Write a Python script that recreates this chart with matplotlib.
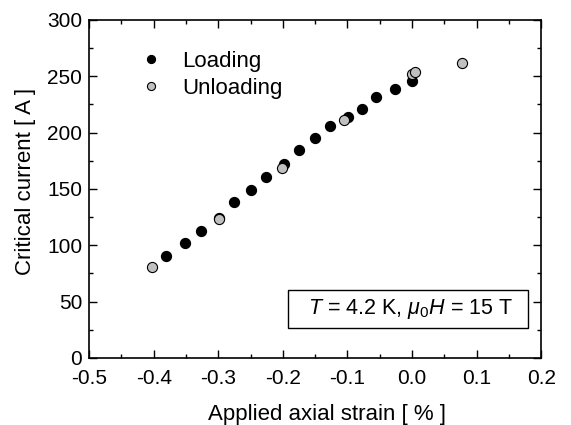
import numpy as np
import matplotlib
matplotlib.use("Agg")
import matplotlib.pyplot as plt
from matplotlib.ticker import MultipleLocator
from matplotlib.patches import Rectangle

plt.rcParams['font.family'] = ['Liberation Sans', 'DejaVu Sans']
plt.rcParams['mathtext.fontset'] = 'custom'
plt.rcParams['mathtext.rm'] = 'Liberation Sans'
plt.rcParams['mathtext.it'] = 'Liberation Sans:italic'

##### datos de carga / descarga #####
strain_load = [-0.381, -0.352, -0.327, -0.299, -0.276, -0.250, -0.226, -0.199,
               -0.175, -0.150, -0.127, -0.099, -0.078, -0.056, -0.027, 0.000]
ic_load = [90.5, 101.8, 112.7, 124.2, 138.1, 149.4, 160.9, 171.8,
           184.6, 194.9, 205.6, 214.1, 220.9, 231.6, 238.4, 246.1]

strain_unload = [-0.403, -0.299, -0.201, -0.105, 0.000, 0.005, 0.077]
ic_unload = [80.5, 123.0, 169.0, 211.0, 252.0, 253.5, 262.0]

fig = plt.figure(figsize=(5.71, 4.25), dpi=100)
ax = fig.add_axes([0.156, 0.158, 0.792, 0.795])

ax.plot(strain_load, ic_load, 'o', color='black', markeredgecolor='black',
        markersize=7.3, markeredgewidth=0.8, label='Loading', zorder=3)
ax.plot(strain_unload, ic_unload, 'o', color='#c0c0c0', markeredgecolor='black',
        markersize=7.3, markeredgewidth=0.8, label='Unloading', zorder=4)

ax.set_xlim(-0.5, 0.2)
ax.set_ylim(0, 300)
ax.xaxis.set_major_locator(MultipleLocator(0.1))
ax.xaxis.set_minor_locator(MultipleLocator(0.05))
ax.yaxis.set_major_locator(MultipleLocator(50))
ax.yaxis.set_minor_locator(MultipleLocator(25))
ax.xaxis.set_major_formatter(matplotlib.ticker.FormatStrFormatter('%.1f'))
ax.tick_params(which='both', direction='in', top=True, right=True, labelsize=15, width=1)
ax.tick_params(which='major', length=6)
ax.tick_params(which='minor', length=3)
ax.tick_params(axis='x', pad=8)
ax.tick_params(axis='y', pad=5)
for s in ax.spines.values():
    s.set_linewidth(1.2)

ax.set_xlabel('Applied axial strain [ % ]', fontsize=16)
ax.set_ylabel('Critical current [ A ]', fontsize=16)
ax.xaxis.set_label_coords(0.527, -0.138)
ax.yaxis.set_label_coords(-0.117, 0.521)

ax.legend(loc='upper left', frameon=False, fontsize=16, handletextpad=0.42,
          borderaxespad=0, labelspacing=0.27, markerscale=0.8,
          bbox_to_anchor=(0.068, 0.935))

# recuadro con condiciones
ax.add_patch(Rectangle((0.440, 0.089), 0.531, 0.112, transform=ax.transAxes,
                       facecolor='white', edgecolor='black', linewidth=1, zorder=5))
ax.text(0.710, 0.145, r'$T$ = 4.2 K, $\mu_0H$ = 15 T', transform=ax.transAxes,
        ha='center', va='center', fontsize=15.5, zorder=6)

fig.savefig('out.png', dpi=100)
